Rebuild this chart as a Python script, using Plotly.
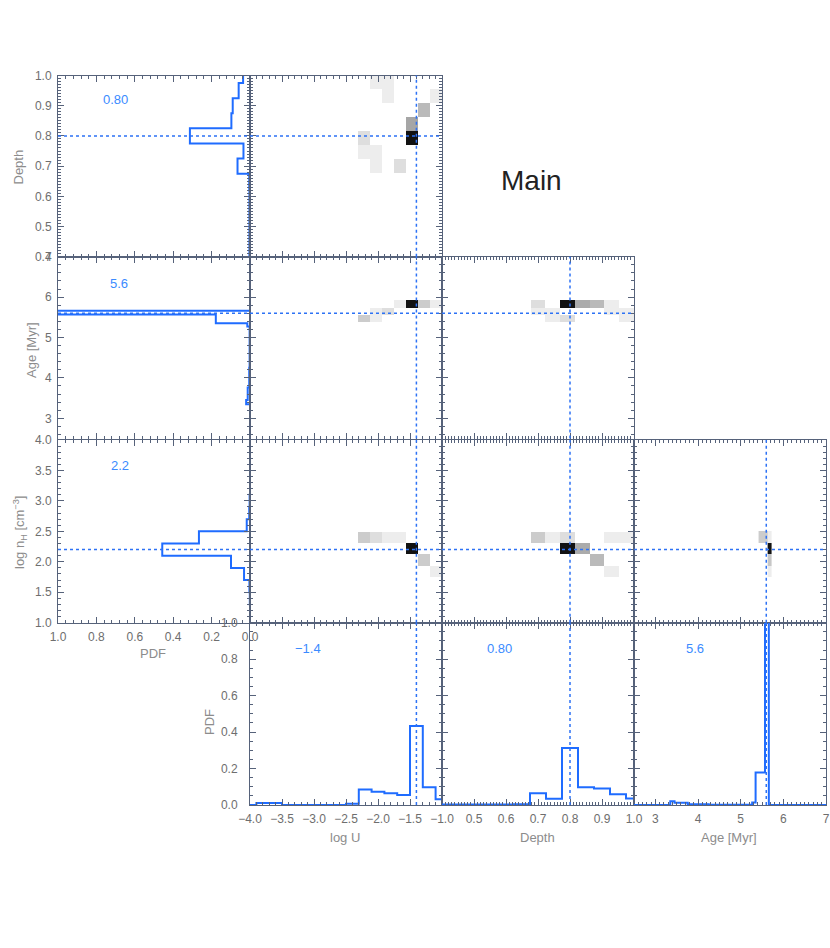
import numpy as np
import plotly.graph_objects as go

# ---------------- data ----------------
# best-fit values and their printed labels
BEST_LOGU = -1.4
BEST_DEPTH = 0.80
BEST_AGE = 5.6
BEST_NH = 2.2
LABEL_LOGU = "\u22121.4"
LABEL_DEPTH = "0.80"
LABEL_AGE = "5.6"
LABEL_NH = "2.2"

# 1-D marginal PDFs
LOGU_CENTERS = [-4.0, -3.8, -3.6, -3.4, -3.2, -3.0, -2.8, -2.6, -2.4, -2.2, -2.0, -1.8, -1.6, -1.4, -1.2, -1.0]
LOGU_PDF = [0.000, 0.011, 0.011, 0.000, 0.000, 0.000, 0.000, 0.000, 0.007, 0.085, 0.072, 0.064, 0.055, 0.433, 0.098, 0.031]

DEPTH_CENTERS = [0.40, 0.45, 0.50, 0.55, 0.60, 0.65, 0.70, 0.75, 0.80, 0.85, 0.90, 0.95, 1.00]
DEPTH_PDF = [0.003, 0.003, 0.003, 0.003, 0.003, 0.004, 0.065, 0.034, 0.313, 0.097, 0.090, 0.059, 0.036]

NH_CENTERS = [1.0, 1.2, 1.4, 1.6, 1.8, 2.0, 2.2, 2.4, 2.6, 2.8, 3.0, 3.2, 3.4, 3.6, 3.8, 4.0]
NH_PDF = [0.000, 0.000, 0.001, 0.003, 0.031, 0.099, 0.457, 0.266, 0.017, 0.004, 0.002, 0.000, 0.000, 0.000, 0.000, 0.000]

AGE_EDGES = [2.5, 3.35, 3.45, 3.76, 4.25, 5.27, 5.35, 5.57, 5.66, 7.0]
AGE_PDF = [0.000, 0.020, 0.012, 0.004, 0.002, 0.014, 0.178, 1.500, 0.000]

# 2-D joint distributions (cell value = grey density, 0 white .. 1 black)
UD_LOGU = [-2.0, -1.8, -1.8, -1.0, -1.2, -1.4, -1.4, -2.2, -2.2, -2.0, -2.0, -1.6]
UD_DEPTH = [1.00, 1.00, 0.95, 0.95, 0.90, 0.85, 0.80, 0.80, 0.75, 0.75, 0.70, 0.70]
UD_DENS = [0.07, 0.07, 0.07, 0.07, 0.27, 0.35, 0.93, 0.13, 0.07, 0.07, 0.07, 0.13]

UA_LOGU = [-1.6, -1.4, -1.2, -1.0, -2.0, -1.8, -2.2, -2.0]
UA_AGE = [5.83, 5.83, 5.83, 5.83, 5.65, 5.65, 5.47, 5.47]
UA_DENS = [0.07, 0.93, 0.20, 0.07, 0.07, 0.13, 0.20, 0.07]

DA_DEPTH = [0.70, 0.80, 0.85, 0.90, 0.95, 0.70, 0.75, 0.95, 1.00, 0.75, 0.80, 1.00]
DA_AGE = [5.83, 5.83, 5.83, 5.83, 5.83, 5.65, 5.65, 5.65, 5.65, 5.47, 5.47, 5.47]
DA_DENS = [0.13, 0.93, 0.33, 0.27, 0.07, 0.07, 0.07, 0.07, 0.07, 0.07, 0.13, 0.07]

UN_LOGU = [-2.2, -2.0, -1.8, -1.6, -1.4, -1.2, -1.0]
UN_NH = [2.4, 2.4, 2.4, 2.4, 2.2, 2.0, 1.8]
UN_DENS = [0.20, 0.13, 0.07, 0.07, 0.93, 0.20, 0.07]

DN_DEPTH = [0.70, 0.75, 0.80, 0.95, 1.00, 0.80, 0.85, 0.90, 0.95]
DN_NH = [2.4, 2.4, 2.4, 2.4, 2.4, 2.2, 2.2, 2.0, 1.8]
DN_DENS = [0.20, 0.07, 0.13, 0.07, 0.07, 0.93, 0.33, 0.27, 0.07]

AN_AGE_EDGES = [5.42, 5.62, 5.72]
AN_AGE = [5.52, 5.67, 5.67, 5.67, 5.67]
AN_NH = [2.4, 2.4, 2.2, 2.0, 1.8]
AN_DENS = [0.20, 0.07, 0.93, 0.22, 0.07]

# axis ranges, ticks
LOGU_RANGE = [-4.0, -1.0]
DEPTH_RANGE = [0.4, 1.0]
AGE_RANGE = [2.5, 7.0]
NH_RANGE = [1.0, 4.0]
LOGU_TICKS = [-4.0, -3.5, -3.0, -2.5, -2.0, -1.5, -1.0]
DEPTH_TICKS = [0.4, 0.5, 0.6, 0.7, 0.8, 0.9, 1.0]
AGE_TICKS = [3, 4, 5, 6, 7]
NH_TICKS = [1.0, 1.5, 2.0, 2.5, 3.0, 3.5, 4.0]
PDF_TICKS = [0.0, 0.2, 0.4, 0.6, 0.8, 1.0]

# ---------------- styling ----------------
OFF = 0
W, H = 830, 948
COLS = [(58, 250), (250, 442), (442, 634), (634, 826)]
ROWS = [(75.5, 256.7), (256.7, 438.5), (440, 622.7), (622.7, 805)]
AX_COLOR = "#56627a"
TICK_FONT = dict(family="Liberation Sans, Arial, sans-serif", size=12, color="#6e6e6e")
TITLE_FONT = dict(family="Liberation Sans, Arial, sans-serif", size=13, color="#8c8c8c")
HIST_COLOR = "#1f6cff"
DOT_COLOR = "#2d72f5"
TEXT_BLUE = "#3b8bff"


def fx(px):
    return (px - OFF) / W


def fy(py):
    return 1 - (py - OFF) / H


def fmt1(v):
    s = f"{v:.1f}"
    return s.replace("-", "\u2212")


AXES = {
    "pdfx": dict(range=[1.0, 0.0], tickvals=PDF_TICKS, ticktext=[fmt1(v) for v in PDF_TICKS], minor=0.04, m0=0.0),
    "pdfy": dict(range=[0.0, 1.0], tickvals=PDF_TICKS, ticktext=[fmt1(v) for v in PDF_TICKS], minor=0.05, m0=0.0),
    "logU": dict(range=LOGU_RANGE, tickvals=LOGU_TICKS, ticktext=[fmt1(v) for v in LOGU_TICKS], minor=0.1, m0=-4.0),
    "depth": dict(range=DEPTH_RANGE, tickvals=DEPTH_TICKS, ticktext=[fmt1(v) for v in DEPTH_TICKS], minor=0.01, m0=0.4),
    "depthB": dict(range=DEPTH_RANGE, tickvals=DEPTH_TICKS[1:],
                   ticktext=[fmt1(v) for v in DEPTH_TICKS[1:]], minor=0.01, m0=0.4),
    "age": dict(range=AGE_RANGE, tickvals=AGE_TICKS, ticktext=[str(v) for v in AGE_TICKS], minor=0.2, m0=2.6),
    "ageX": dict(range=AGE_RANGE, tickvals=AGE_TICKS, ticktext=[str(v) for v in AGE_TICKS], minor=0.1, m0=2.5),
    "nH": dict(range=NH_RANGE, tickvals=NH_TICKS, ticktext=[fmt1(v) for v in NH_TICKS], minor=0.1, m0=1.0),
}

# (row, col, xaxis kind, yaxis kind, show x labels, show y labels)
PANELS = [
    (0, 0, "pdfx", "depth", False, True),
    (0, 1, "logU", "depth", False, False),
    (1, 0, "pdfx", "age", False, True),
    (1, 1, "logU", "age", False, False),
    (1, 2, "depth", "age", False, False),
    (2, 0, "pdfx", "nH", True, True),
    (2, 1, "logU", "nH", False, False),
    (2, 2, "depth", "nH", False, False),
    (2, 3, "ageX", "nH", False, False),
    (3, 1, "logU", "pdfy", True, True),
    (3, 2, "depthB", "pdfy", True, False),
    (3, 3, "ageX", "pdfy", True, False),
]

fig = go.Figure()
layout = {}
ref = {}
for i, (r, c, xk, yk, xl, yl) in enumerate(PANELS, start=1):
    sfx = "" if i == 1 else str(i)
    ref[(r, c)] = ("x" + sfx, "y" + sfx)
    x0, x1 = COLS[c]
    y0, y1 = ROWS[r]
    for axname, kind, dom, show, anchor in (
        ("xaxis" + sfx, xk, [fx(x0), fx(x1)], xl, "y" + sfx),
        ("yaxis" + sfx, yk, [fy(y1), fy(y0)], yl, "x" + sfx),
    ):
        a = AXES[kind]
        layout[axname] = dict(
            domain=dom, anchor=anchor, range=a["range"], tickmode="array",
            tickvals=a["tickvals"], ticktext=a["ticktext"], showticklabels=show,
            ticks="inside", ticklen=6, tickwidth=1, tickcolor=AX_COLOR,
            showline=True, linecolor=AX_COLOR, linewidth=1, mirror="allticks",
            showgrid=False, zeroline=False, tickfont=TICK_FONT, automargin=False,
            ticklabelstandoff=(9 if kind == "pdfy" else 3), fixedrange=True,
            minor=dict(ticks="inside", ticklen=3, tickcolor=AX_COLOR, dtick=a["minor"],
                       tick0=a["m0"], showgrid=False),
        )
fig.update_layout(**layout)

GREY = [[0, "#ffffff"], [1, "#000000"]]


def grid_index(v, centers):
    return int(np.argmin(np.abs(np.asarray(centers) - v)))


def add_map(rc, xcenters, xedges, ycenters, yedges, xs, ys, dens):
    z = [[None] * len(xcenters) for _ in ycenters]
    for xv, yv, d in zip(xs, ys, dens):
        z[grid_index(yv, ycenters)][grid_index(xv, xcenters)] = d
    xa, ya = ref[rc]
    fig.add_trace(go.Heatmap(x=xedges, y=yedges, z=z, colorscale=GREY, zmin=0, zmax=1,
                             showscale=False, hoverinfo="skip", xaxis=xa, yaxis=ya))


# 2-D grid cells spread evenly across each axis (image display)
LOGU_CELL_EDGES = list(np.linspace(LOGU_RANGE[0], LOGU_RANGE[1], len(LOGU_CENTERS) + 1))
DEPTH_CELL_EDGES = list(np.linspace(DEPTH_RANGE[0], DEPTH_RANGE[1], len(DEPTH_CENTERS) + 1))
NH_CELL_EDGES = list(np.linspace(NH_RANGE[0], NH_RANGE[1], len(NH_CENTERS) + 1))
N_AGE_CELLS = 25
AGE_CELL_EDGES = list(np.linspace(AGE_RANGE[0], AGE_RANGE[1], N_AGE_CELLS + 1))
AGE_CELL_CENTERS = [(a + b) / 2 for a, b in zip(AGE_CELL_EDGES[:-1], AGE_CELL_EDGES[1:])]
AN_AGE_CENTERS = [(a + b) / 2 for a, b in zip(AN_AGE_EDGES[:-1], AN_AGE_EDGES[1:])]

add_map((0, 1), LOGU_CENTERS, LOGU_CELL_EDGES, DEPTH_CENTERS, DEPTH_CELL_EDGES, UD_LOGU, UD_DEPTH, UD_DENS)
add_map((1, 1), LOGU_CENTERS, LOGU_CELL_EDGES, AGE_CELL_CENTERS, AGE_CELL_EDGES, UA_LOGU, UA_AGE, UA_DENS)
add_map((1, 2), DEPTH_CENTERS, DEPTH_CELL_EDGES, AGE_CELL_CENTERS, AGE_CELL_EDGES, DA_DEPTH, DA_AGE, DA_DENS)
add_map((2, 1), LOGU_CENTERS, LOGU_CELL_EDGES, NH_CENTERS, NH_CELL_EDGES, UN_LOGU, UN_NH, UN_DENS)
add_map((2, 2), DEPTH_CENTERS, DEPTH_CELL_EDGES, NH_CENTERS, NH_CELL_EDGES, DN_DEPTH, DN_NH, DN_DENS)
add_map((2, 3), AN_AGE_CENTERS, AN_AGE_EDGES, NH_CENTERS, NH_CELL_EDGES, AN_AGE, AN_NH, AN_DENS)


def centers_to_edges(centers):
    h = (centers[1] - centers[0]) / 2
    return [c - h for c in centers] + [centers[-1] + h]


def add_vhist(rc, edges, pdf):
    xa, ya = ref[rc]
    fig.add_trace(go.Scatter(x=edges, y=list(pdf) + [pdf[-1]], mode="lines", line_shape="hv",
                             line=dict(color=HIST_COLOR, width=2), hoverinfo="skip",
                             showlegend=False, xaxis=xa, yaxis=ya))


def add_hhist(rc, edges, pdf):
    xa, ya = ref[rc]
    fig.add_trace(go.Scatter(y=edges, x=list(pdf) + [pdf[-1]], mode="lines", line_shape="vh",
                             line=dict(color=HIST_COLOR, width=2), hoverinfo="skip",
                             showlegend=False, xaxis=xa, yaxis=ya))


add_hhist((0, 0), centers_to_edges(DEPTH_CENTERS), DEPTH_PDF)
add_hhist((1, 0), AGE_EDGES, AGE_PDF)
add_hhist((2, 0), centers_to_edges(NH_CENTERS), NH_PDF)
add_vhist((3, 1), centers_to_edges(LOGU_CENTERS), LOGU_PDF)
add_vhist((3, 2), centers_to_edges(DEPTH_CENTERS), DEPTH_PDF)
add_vhist((3, 3), AGE_EDGES, AGE_PDF)

# dotted best-value lines
shapes = []


def vline(rc, v):
    xa, ya = ref[rc]
    shapes.append(dict(type="line", xref=xa, yref=ya + " domain", x0=v, x1=v, y0=0, y1=1,
                       line=dict(color=DOT_COLOR, width=1.5, dash="dot"), layer="above"))


def hline(rc, v):
    xa, ya = ref[rc]
    shapes.append(dict(type="line", yref=ya, xref=xa + " domain", y0=v, y1=v, x0=0, x1=1,
                       line=dict(color=DOT_COLOR, width=1.5, dash="dot"), layer="above"))


for rc in [(0, 1), (1, 1), (2, 1), (3, 1)]:
    vline(rc, BEST_LOGU)
for rc in [(1, 2), (2, 2), (3, 2)]:
    vline(rc, BEST_DEPTH)
for rc in [(2, 3), (3, 3)]:
    vline(rc, BEST_AGE)
for rc in [(0, 0), (0, 1)]:
    hline(rc, BEST_DEPTH)
for rc in [(1, 0), (1, 1), (1, 2)]:
    hline(rc, BEST_AGE)
for rc in [(2, 0), (2, 1), (2, 2), (2, 3)]:
    hline(rc, BEST_NH)

annotations = []


def best_text(rc, text, xd, yd):
    xa, ya = ref[rc]
    annotations.append(dict(text=text, xref=xa + " domain", yref=ya + " domain", x=xd, y=yd,
                            showarrow=False, xanchor="center", yanchor="middle",
                            font=dict(family="Liberation Sans, Arial, sans-serif", size=13, color=TEXT_BLUE)))


best_text((0, 0), LABEL_DEPTH, 0.297, 0.865)
best_text((1, 0), LABEL_AGE, 0.318, 0.855)
best_text((2, 0), LABEL_NH, 0.323, 0.858)
best_text((3, 1), LABEL_LOGU, 0.302, 0.861)
best_text((3, 2), LABEL_DEPTH, 0.302, 0.861)
best_text((3, 3), LABEL_AGE, 0.318, 0.861)


def paper_text(text, px, py, angle=0, font=TITLE_FONT):
    annotations.append(dict(text=text, xref="paper", yref="paper", x=fx(px), y=fy(py),
                            showarrow=False, xanchor="center", yanchor="middle", textangle=angle,
                            font=font))


paper_text("Depth", 17.5, 167, -90)
paper_text("Age [Myr]", 31, 350, -90)
paper_text("log n<sub>H</sub> [cm<sup>\u22123</sup>]", 20, 533, -90)
paper_text("PDF", 153, 653)
paper_text("PDF", 209, 722, -90)
paper_text("log U", 345, 837)
paper_text("Depth", 537, 837)
paper_text("Age [Myr]", 729, 837)
paper_text("Main", 531, 180, 0, dict(family="Liberation Sans, Arial, sans-serif", size=28, color="#222222"))

fig.update_layout(width=W, height=H, margin=dict(l=0, r=0, t=0, b=0, pad=0, autoexpand=False),
                  paper_bgcolor="white", plot_bgcolor="rgba(0,0,0,0)", showlegend=False,
                  hovermode=False, shapes=shapes, annotations=annotations)

# page without default body margins or scrollbars so the figure fills the window
fig.write_html("out.html",
               config={"displayModeBar": False, "staticPlot": True},
               post_script="document.body.style.margin='0';"
                           "document.documentElement.style.overflow='hidden';"
                           "document.body.style.overflow='hidden';")
